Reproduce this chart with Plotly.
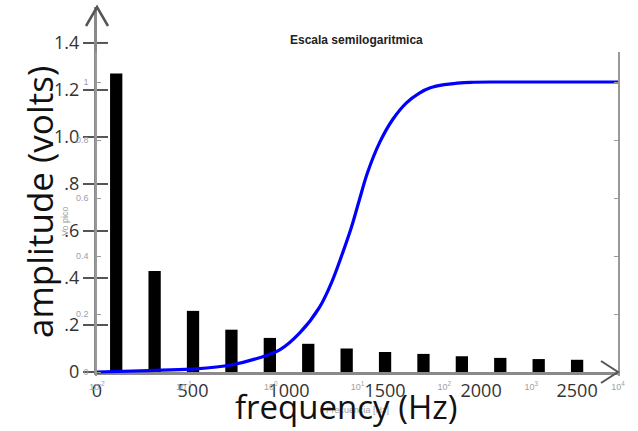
import plotly.graph_objects as go

# ---- data: harmonic spectrum (bar chart) ----
harm_freq = [100, 300, 500, 700, 900, 1100, 1300, 1500, 1700, 1900, 2100, 2300, 2500]
harm_amp = [1.27, 0.43, 0.26, 0.18, 0.145, 0.12, 0.10, 0.085, 0.077, 0.067, 0.06, 0.055, 0.052]

# ---- data: semilog response curve ----
resp_freq = [0.01, 0.04, 0.12, 0.35, 0.93, 1.27, 2.15, 3.66, 5.16, 6.73, 8.53, 10.5, 13.0, 17.9, 25.2,
             36.6, 51.6, 69, 100, 141, 200, 400, 1000, 10000]
resp_amp = [0.0, 0.005, 0.01, 0.024, 0.059, 0.076, 0.134, 0.224, 0.317, 0.410, 0.500, 0.593, 0.686, 0.790,
            0.869, 0.928, 0.962, 0.980, 0.991, 0.996, 0.999, 1.0, 1.0, 1.0]

# ---- tick labels ----
amp_ticks = [0, 0.2, 0.4, 0.6, 0.8, 1.0, 1.2, 1.4]
amp_ticktext = ["0", ".2", ".4", ".6", ".8", "1.0", "1.2", "1.4"]
freq_ticks = [0, 500, 1000, 1500, 2000, 2500]
freq_ticktext = ["0", "500", "1000", "1500", "2000", "2500"]
log_ticks = [0.01, 0.1, 1, 10, 100, 1000, 10000]
log_ticktext = ["10<sup>-2</sup>", "10<sup>-1</sup>", "10<sup>0</sup>", "10<sup>1</sup>",
                "10<sup>2</sup>", "10<sup>3</sup>", "10<sup>4</sup>"]
log_minor = [m * d for d in [0.01, 0.1, 1, 10, 100, 1000] for m in range(2, 10)]
vo_ticks = [0, 0.2, 0.4, 0.6, 0.8, 1]
vo_ticktext = ["0", "0.2", "0.4", "0.6", "0.8", "1"]

W, H = 638, 431
L, R, T, B = 97, 20, 7, 55
PW, PH = W - L - R, H - T - B


def px(x):
    return (x - L) / PW


def py(y):
    return (H - B - y) / PH


AXG = "#8a8a8a"
FAINT = "#a0a0a0"

fig = go.Figure()
fig.add_trace(go.Bar(x=harm_freq, y=harm_amp, width=64, marker=dict(color="black", line=dict(width=0)),
                     xaxis="x", yaxis="y", showlegend=False))
fig.add_trace(go.Scatter(x=resp_freq, y=resp_amp, mode="lines",
                         line=dict(color="#0000ff", width=3.2, shape="spline", smoothing=1.0),
                         xaxis="x2", yaxis="y2", showlegend=False))

shapes = []
# y arrowhead
shapes.append(dict(type="path", xref="paper", yref="paper",
                   path=f"M {px(86)},{py(26)} L {px(97)},{py(7)} L {px(108)},{py(26)}",
                   line=dict(color="#555", width=2.5)))
# x arrowhead
shapes.append(dict(type="path", xref="paper", yref="paper",
                   path=f"M {px(601)},{py(361)} L {px(618)},{py(372)} L {px(601)},{py(383)}",
                   line=dict(color="#555", width=2)))
# inner half of crossing ticks on amplitude axis
for v in amp_ticks[1:]:
    shapes.append(dict(type="line", xref="paper", yref="y", x0=0, x1=px(108), y0=v, y1=v,
                       line=dict(color="#555", width=2)))


def ann(text, x, y, size, color, family, angle=0):
    return dict(text=text, x=px(x), y=py(y), xref="paper", yref="paper", textangle=angle,
                xanchor="center", yanchor="middle", showarrow=False,
                font=dict(family=family, size=size, color=color))


annotations = [
    ann("Vo pico", 65, 221, 9, FAINT, "Liberation Sans", -90),
    ann("Frecuencia [Hz]", 357, 410, 9, FAINT, "Liberation Sans"),
    ann("<b>Escala semilogaritmica</b>", 356, 40, 12, "#222", "Liberation Sans"),
    ann("amplitude (volts)", 39, 202, 35, "#111", "Open Sans", -90),
    ann("frequency (Hz)", 346, 406, 33, "#111", "Open Sans"),
]

fig.update_layout(
    width=W, height=H,
    margin=dict(l=L, r=R, t=T, b=B),
    paper_bgcolor="white", plot_bgcolor="rgba(0,0,0,0)",
    showlegend=False,
    xaxis=dict(domain=[0, 1], range=[0, 2713], anchor="y", showline=True, linecolor=AXG, linewidth=3,
               tickvals=freq_ticks, ticktext=freq_ticktext, ticks="", showgrid=False, zeroline=False,
               tickfont=dict(family="Open Sans", size=18, color="#333")),
    yaxis=dict(domain=[4 / PH, 1], range=[0, 1.553], anchor="x", showline=True, linecolor=AXG, linewidth=3,
               tickvals=amp_ticks, ticktext=amp_ticktext, ticks="outside", ticklen=11, tickwidth=2,
               tickcolor="#555", showgrid=False, zeroline=False,
               tickfont=dict(family="Open Sans", size=18, color="#333")),
    xaxis2=dict(domain=[0, 1], type="log", range=[-2, 4], anchor="y2", showline=False, ticks="",
                tickvals=log_ticks, ticktext=log_ticktext, showgrid=False, zeroline=False,
                ticklabelstandoff=4, tickfont=dict(family="Liberation Sans", size=9, color=FAINT)),
    xaxis3=dict(domain=[0, 1], type="log", range=[-2, 4], anchor="y2", overlaying="x2", side="top",
                showline=True, linecolor="#999", linewidth=1.5, ticks="inside", ticklen=5, tickcolor="#999",
                tickvals=log_ticks, showticklabels=False, showgrid=False, zeroline=False,
                minor=dict(tickvals=log_minor, ticks="inside", ticklen=3, tickcolor="#999", showgrid=False)),
    yaxis2=dict(domain=[0, (H - B - 52) / PH], range=[-4 / 290, (376 - 52) / 290 - 4 / 290], anchor="x2",
                showline=True, mirror="ticks", linecolor="#999", linewidth=1.5, ticks="inside", ticklen=4,
                tickcolor="#999", tickvals=vo_ticks, ticktext=vo_ticktext, showgrid=False, zeroline=False,
                ticklabelstandoff=5, tickfont=dict(family="Liberation Sans", size=9, color=FAINT)),
    shapes=shapes,
    annotations=annotations,
)

fig.write_html("out.html", config={"displayModeBar": False},
               post_script="document.body.style.margin='0';document.body.style.padding='0';")
